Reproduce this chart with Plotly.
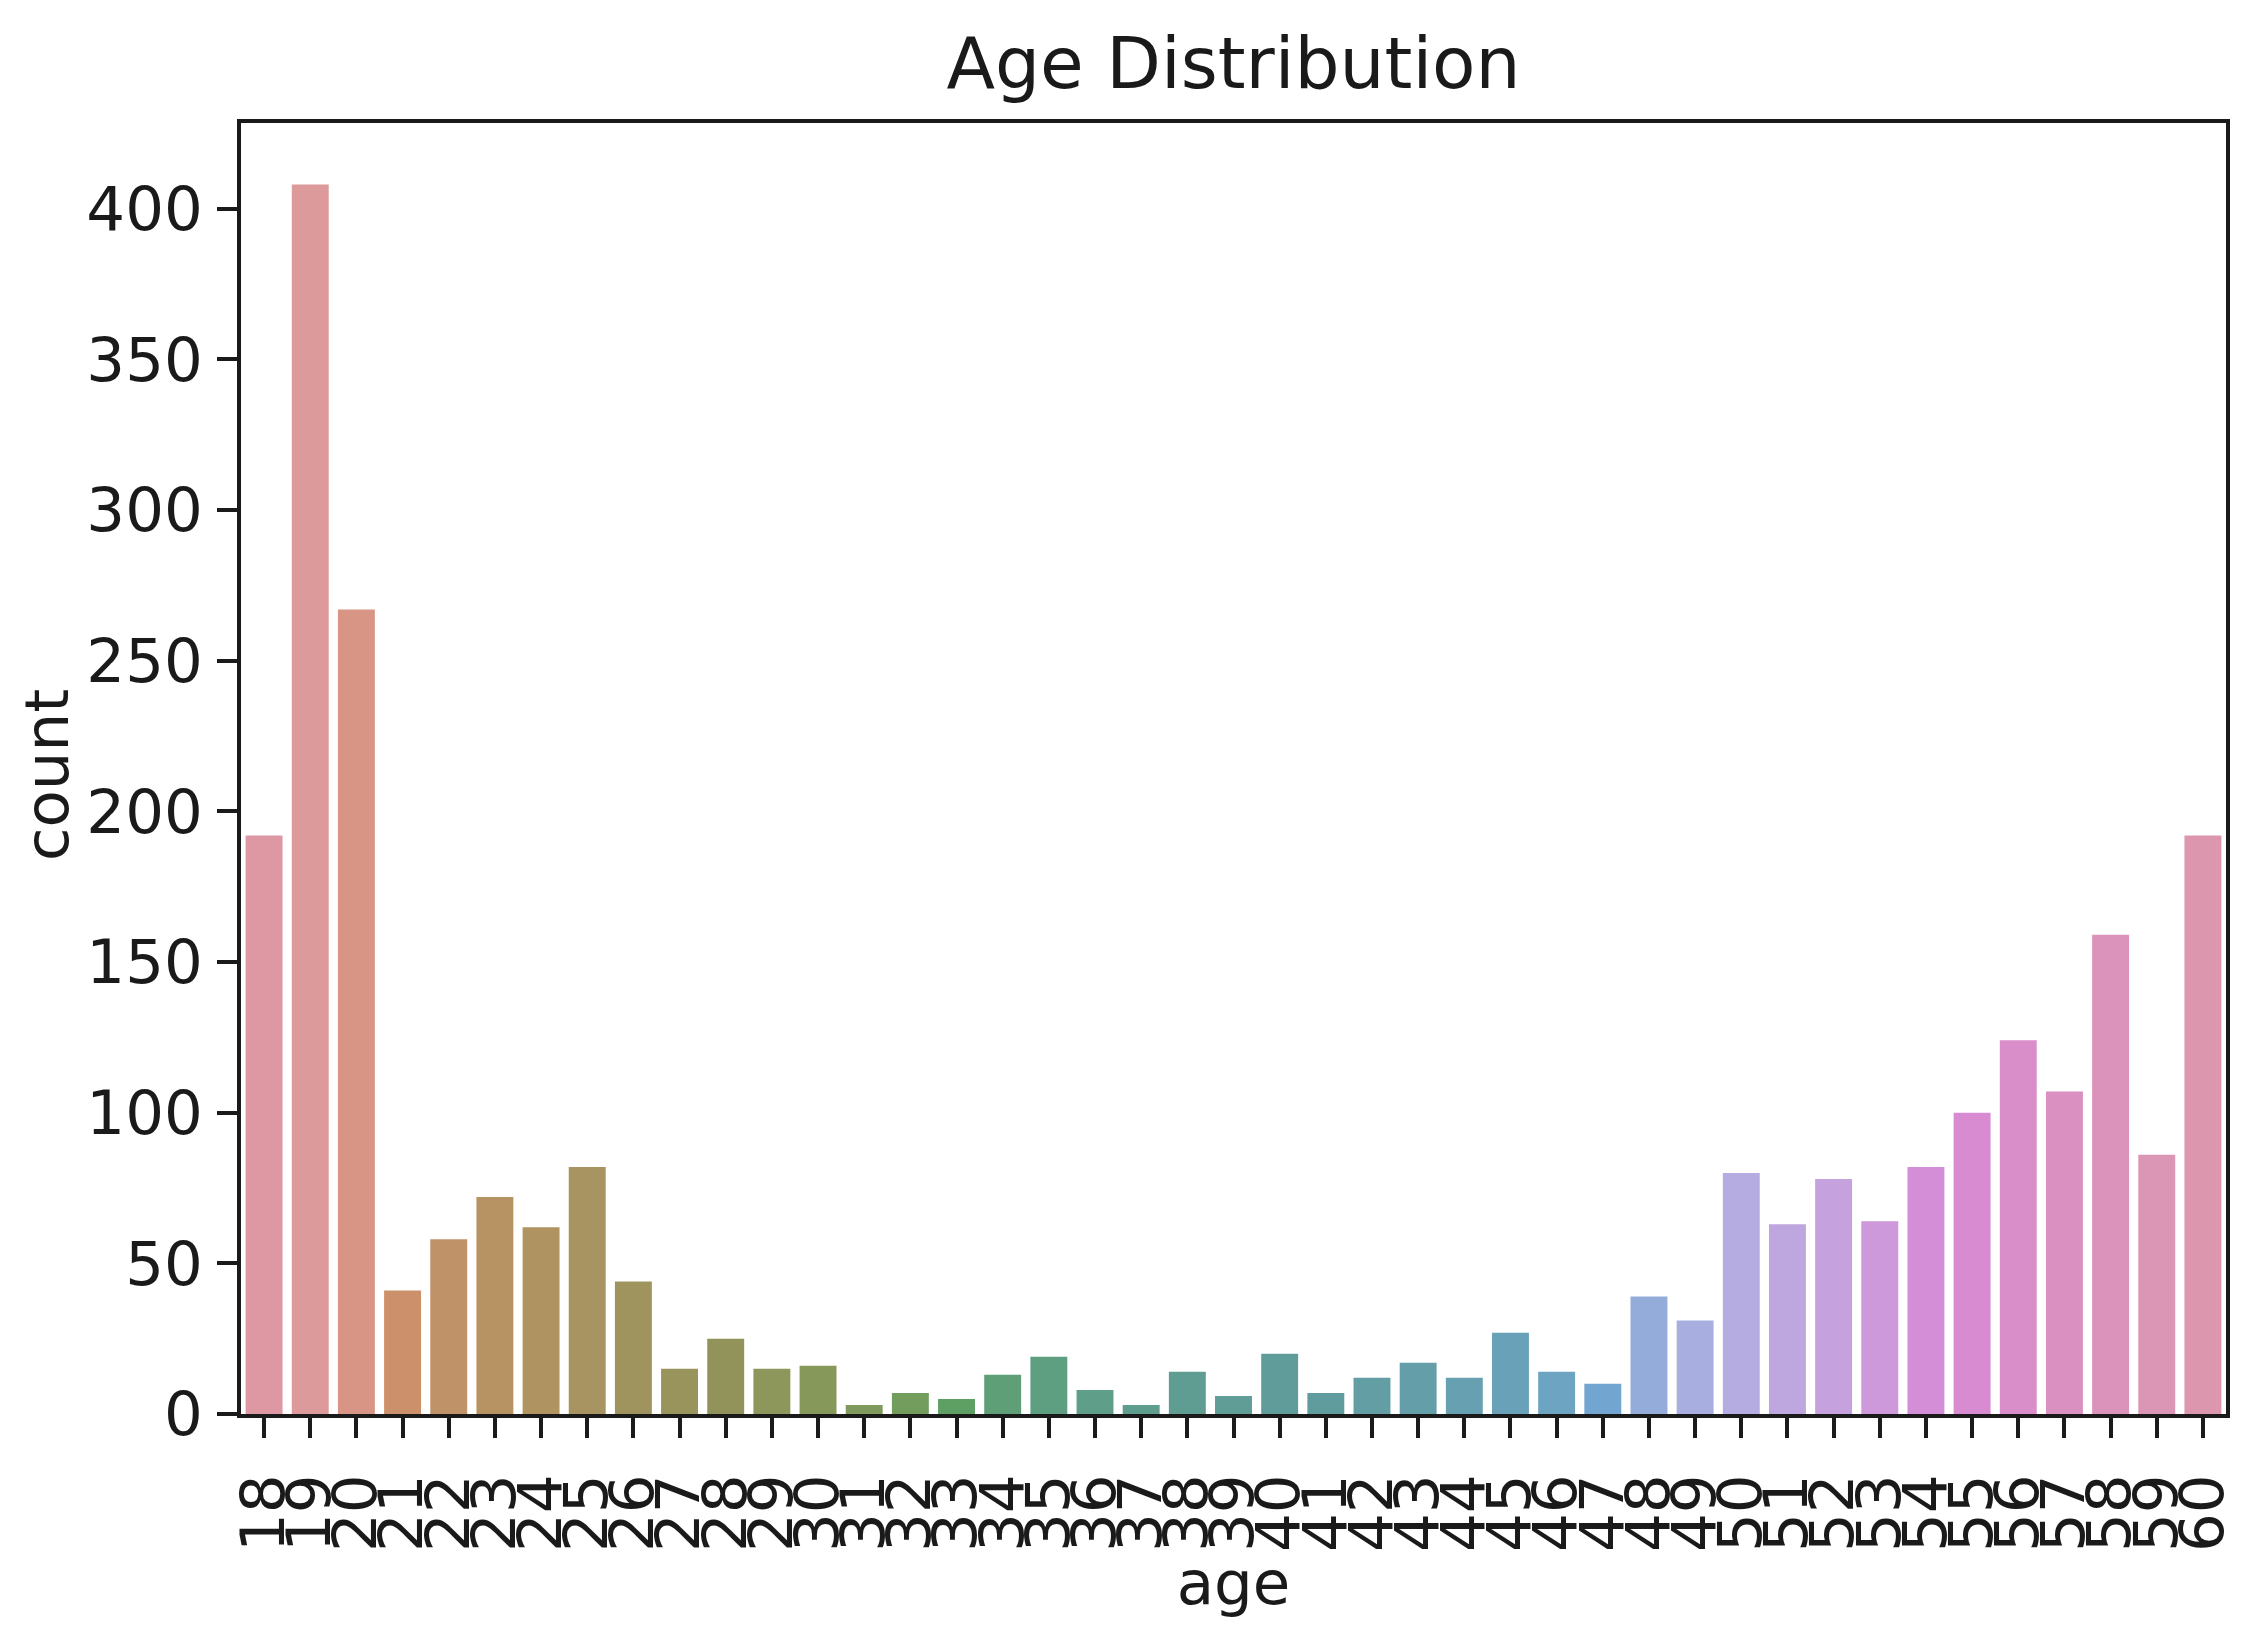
import math
import colorsys
import plotly.graph_objects as go

# ---- data ----
ages = [str(a) for a in range(18, 61)]
counts = [192, 408, 267, 41, 58, 72, 62, 82, 44, 15, 25, 15, 16, 3, 7,
          5, 13, 19, 8, 3, 14, 6, 20, 7, 12, 17, 12, 27, 14, 10,
          39, 31, 80, 63, 78, 64, 82, 100, 124, 107, 159, 86, 192]
y_ticks = [0, 50, 100, 150, 200, 250, 300, 350, 400]

# ---- seaborn-like husl palette (h=.01, s=.9, l=.65), softened ----
_M = [[3.2406, -1.5372, -0.4986],
      [-0.9689, 1.8758, 0.0415],
      [0.0557, -0.2040, 1.0570]]
_refU, _refV = 0.19784, 0.46834


def _max_chroma(L, H):
    hrad = math.radians(H)
    sinH, cosH = math.sin(hrad), math.cos(hrad)
    sub1 = (L + 16) ** 3 / 1560896.0
    sub2 = sub1 if sub1 > 0.008856 else (L / 903.3)
    result = float("inf")
    for m1, m2, m3 in _M:
        top = (0.99915 * m1 + 1.05122 * m2 + 1.14460 * m3) * sub2
        rbottom = 0.86330 * m3 - 0.17266 * m2
        lbottom = 0.12949 * m3 - 0.38848 * m1
        bottom = (rbottom * sinH + lbottom * cosH) * sub2
        for t in (0.0, 1.0):
            C = L * (top - 1.05122 * t) / (bottom + 0.17266 * sinH * t)
            if 0.0 < C < result:
                result = C
    return result


def _from_linear(c):
    return 12.92 * c if c <= 0.0031308 else 1.055 * c ** (1 / 2.4) - 0.055


def husl_to_rgb(H, S, L):
    C = _max_chroma(L, H) / 100.0 * S
    hr = math.radians(H)
    U, V = math.cos(hr) * C, math.sin(hr) * C
    varY = ((L + 16) / 116) ** 3 if L > 8 else L / 903.3
    varU = U / (13.0 * L) + _refU
    varV = V / (13.0 * L) + _refV
    Y = varY
    X = -(9.0 * Y * varU) / ((varU - 4.0) * varV - varU * varV)
    Z = (9.0 * Y - 15.0 * varV * Y - varV * X) / (3.0 * varV)
    rgb = [_from_linear(r[0] * X + r[1] * Y + r[2] * Z) for r in _M]
    return [min(max(c, 0.0), 1.0) for c in rgb]


def palette(n, h=0.01, s=0.9, l=0.65, sat=0.5625, white=0.09):
    out = []
    for i in range(n):
        hue = ((i / n + h) % 1) * 359
        r, g, b = husl_to_rgb(hue, s * 99, l * 99)
        hh, ll, ss = colorsys.rgb_to_hls(r, g, b)
        r, g, b = colorsys.hls_to_rgb(hh, ll, ss * sat)
        r, g, b = [c * (1 - white) + white for c in (r, g, b)]
        out.append("rgb(%d,%d,%d)" % (round(r * 255), round(g * 255), round(b * 255)))
    return out


colors = palette(len(ages))

FONT = "DejaVu Sans"
INK = "#1a1a1a"
TICK_SIZE = 61

fig = go.Figure(go.Bar(
    x=ages, y=counts,
    marker=dict(color=colors, line=dict(width=0)),
))

W, H = 2250, 1610
ML, MR, MT, MB = 233, 32, 115, 204
plot_w, plot_h = W - ML - MR, H - MT - MB

fig.update_layout(
    width=W, height=H,
    margin=dict(l=ML, r=MR, t=MT, b=MB, autoexpand=False),
    paper_bgcolor="white", plot_bgcolor="white",
    bargap=0.2,
    showlegend=False,
    font=dict(family=FONT, size=TICK_SIZE, color=INK),
    title=dict(text="Age Distribution", font=dict(family=FONT, size=71, color=INK),
               x=0.5, xref="paper", xanchor="center",
               y=1 - 55 / H, yref="container", yanchor="middle"),
)

fig.update_xaxes(
    type="category",
    tickmode="array", tickvals=ages, ticktext=ages,
    tickangle=-90,
    ticks="outside", ticklen=20, tickwidth=4, tickcolor=INK,
    ticklabelstandoff=12,
    showline=True, linecolor=INK, linewidth=4, mirror=True,
    showgrid=False, zeroline=False,
    range=[-0.5, len(ages) - 0.5],
    title=dict(text="age", standoff=12, font=dict(family=FONT, size=TICK_SIZE, color=INK)),
    tickfont=dict(family=FONT, size=TICK_SIZE, color=INK),
)

fig.update_yaxes(
    range=[0, 428.4],
    tickmode="array", tickvals=y_ticks, ticktext=[str(v) for v in y_ticks],
    ticks="outside", ticklen=20, tickwidth=4, tickcolor=INK,
    ticklabelstandoff=2,
    showline=True, linecolor=INK, linewidth=4, mirror=True,
    showgrid=False, zeroline=False,
    tickfont=dict(family=FONT, size=TICK_SIZE, color=INK),
)

# y-axis label placed as an annotation so it can sit close to the page edge
fig.add_annotation(
    text="count", textangle=-90, showarrow=False,
    xref="paper", yref="paper",
    x=(38 - ML) / plot_w, y=(H - MB - 767) / plot_h,
    xanchor="center", yanchor="middle",
    font=dict(family=FONT, size=TICK_SIZE, color=INK),
)

fig.write_html("out.html")
